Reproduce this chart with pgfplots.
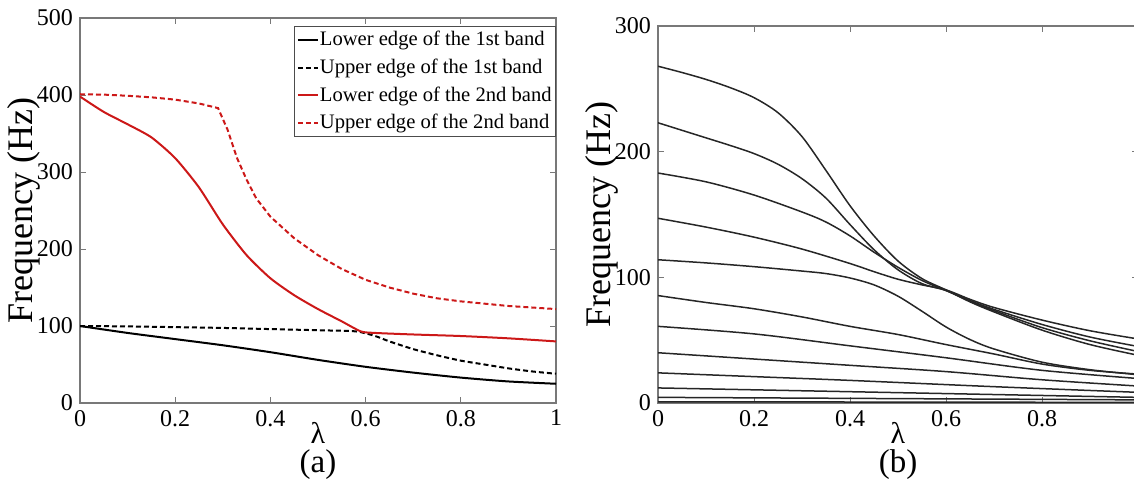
\documentclass[border=0pt]{standalone}
\usepackage{fontspec}
\setmainfont{Liberation Serif}
\usepackage{pgfplots}
\pgfplotsset{compat=1.18}
\definecolor{myred}{RGB}{204,24,24}
\definecolor{axgray}{RGB}{120,120,120}
\pgfplotsset{
  common/.style={
    scale only axis,
    xmin=0, xmax=1,
    ymin=0,
    xtick={0,0.2,0.4,0.6,0.8,1},
    axis line style={axgray, line width=0.6pt},
    tick style={axgray, line width=0.5pt},
    major tick length=3pt,
    tick align=inside,
    ticklabel style={font=\fontsize{12}{14}\selectfont},
    /pgf/number format/assume math mode=true,
    xlabel style={font=\fontsize{15}{17}\selectfont, inner sep=0pt},
    ylabel style={font=\fontsize{18}{20}\selectfont},
    clip mode=individual,
  },
  bline/.style={black!85, line width=0.75pt, smooth, tension=0.5, no markers},
}
\begin{document}
\begin{tikzpicture}
% ---------------- panel (a)
\begin{axis}[common,
  at={(40pt,38pt)}, anchor=south west,
  width=238pt, height=192.5pt,
  ymax=500, ytick={0,100,200,300,400,500},
  xlabel={λ}, ylabel={Frequency (Hz)},
  xlabel style={at={(axis description cs:0.5,-0.077)}, anchor=center},
  ylabel style={at={(axis description cs:-0.1176,0.5)}, anchor=center},
  legend style={at={(axis description cs:1,0.979)}, anchor=north east,
    draw=black!70, fill=white, font=\fontsize{10.3}{12}\selectfont,
    inner xsep=1.5pt, inner ysep=1.5pt, row sep=3pt,
    cells={anchor=west}, nodes={inner xsep=0.5pt, inner ysep=1pt}},
  legend image code/.code={\draw[#1] (0pt,0pt) -- (10pt,0pt);},
]
\addplot[black, line width=1pt, smooth, tension=0.4] coordinates {
 (0,100)(0.1,91)(0.2,83)(0.3,75)(0.4,66)(0.5,56)(0.6,47)(0.7,39.5)(0.8,33)(0.9,28)(1,25)};
\addlegendentry{Lower edge of the 1st band}
\addplot[black, line width=1pt, dash pattern=on 2.5pt off 1.5pt, smooth, tension=0.4] coordinates {
 (0,100)(0.1,99.5)(0.2,98.5)(0.3,97.5)(0.4,96)(0.5,94.5)(0.58,93)(0.62,87)(0.65,80)(0.7,70)(0.75,62)(0.8,55)(0.85,50)(0.9,45)(0.95,41)(1,38)};
\addlegendentry{Upper edge of the 1st band}
\addplot[myred, line width=1pt, smooth, tension=0.4] coordinates {
 (0,398)(0.05,378)(0.1,362)(0.15,345)(0.2,318)(0.25,280)(0.3,232)(0.35,192)(0.4,162)(0.45,140)(0.5,122)(0.55,106)(0.59,93)(0.62,91)(0.7,89)(0.8,87)(0.9,84)(1,80)};
\addlegendentry{Lower edge of the 2nd band}
\addplot[myred, line width=1pt, dash pattern=on 2.5pt off 1.5pt] coordinates {
 (0,401)(0.05,400.5)(0.1,399)(0.15,397)(0.2,394)(0.25,389)(0.29,383)(0.31,355)(0.33,318)(0.35,290)(0.37,266)(0.4,242)(0.45,214)(0.5,192)(0.55,174)(0.6,160)(0.65,150)(0.7,142)(0.75,136)(0.8,132)(0.85,129)(0.9,126)(0.95,124)(1,122)};
\addlegendentry{Upper edge of the 2nd band}
\node[font=\fontsize{16.5}{19}\selectfont, inner sep=0pt] at (axis description cs:0.5,-0.161) {(a)};
\end{axis}
% ---------------- panel (b)
\begin{axis}[common,
  at={(329pt,38pt)}, anchor=south west,
  width=240pt, height=188.5pt,
  ymax=300, ytick={0,100,200,300},
  xlabel={λ}, ylabel={Frequency (Hz)},
  xlabel style={at={(axis description cs:0.5,-0.0786)}, anchor=center},
  ylabel style={at={(axis description cs:-0.1167,0.5)}, anchor=center},
]
\addplot[bline] coordinates {(0,268)(0.05,263)(0.1,257.5)(0.15,251)(0.2,243)(0.25,231)(0.3,212)(0.35,185)(0.4,157)(0.45,133)(0.5,113)(0.55,99)(0.6,90)(0.65,80.5)(0.7,72.5)(0.8,58)(0.9,46.5)(1,38)};
\addplot[bline] coordinates {(0,223)(0.05,217)(0.1,211)(0.15,205)(0.2,198.5)(0.25,190)(0.3,178.5)(0.35,163)(0.4,142)(0.45,122)(0.5,106)(0.55,95)(0.6,89.5)(0.65,81)(0.7,73.5)(0.8,60)(0.9,49.5)(1,41)};
\addplot[bline] coordinates {(0,183)(0.1,176)(0.2,165.5)(0.3,152)(0.35,144)(0.4,133)(0.45,120)(0.5,108)(0.55,97.5)(0.6,89.5)(0.65,81.5)(0.7,74.5)(0.8,62.5)(0.9,52.5)(1,45)};
\addplot[bline] coordinates {(0,147)(0.1,140)(0.2,132)(0.3,122.5)(0.4,111)(0.45,104.5)(0.5,98.5)(0.55,94)(0.6,90)(0.65,82.5)(0.7,76)(0.8,66)(0.9,57.5)(1,51)};
\addplot[bline] coordinates {(0,114)(0.1,111.5)(0.2,108.5)(0.3,105)(0.35,103)(0.4,99.5)(0.45,94)(0.5,85)(0.55,73)(0.6,60.5)(0.65,50.5)(0.7,43)(0.8,32.5)(0.9,26.5)(1,22.5)};
\addplot[bline] coordinates {(0,85.5)(0.1,80)(0.2,75)(0.3,68.5)(0.4,61)(0.5,54.5)(0.6,46.5)(0.7,39)(0.8,31)(0.9,26)(1,23)};
\addplot[bline] coordinates {(0,61)(0.2,55)(0.4,45.5)(0.6,36)(0.8,26)(1,19.5)};
\addplot[bline] coordinates {(0,40)(0.2,35)(0.4,30)(0.6,25)(0.8,18.5)(1,13.5)};
\addplot[bline] coordinates {(0,24)(0.2,21)(0.4,18)(0.7,13)(1,8.5)};
\addplot[bline] coordinates {(0,12)(0.4,9)(1,4.5)};
\addplot[bline] coordinates {(0,4.5)(0.5,3.5)(1,2.5)};
\addplot[bline] coordinates {(0,1)(1,0.5)};
\node[font=\fontsize{16.5}{19}\selectfont, inner sep=0pt] at (axis description cs:0.5,-0.1645) {(b)};
\end{axis}
\pgfresetboundingbox
\path (0pt,0pt) rectangle (567pt,239.5pt);
\end{tikzpicture}
\end{document}
